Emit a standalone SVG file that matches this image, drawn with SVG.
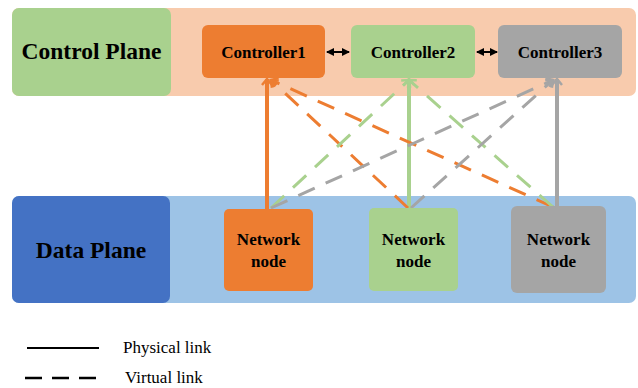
<svg xmlns="http://www.w3.org/2000/svg" width="638" height="388" viewBox="0 0 638 388">
<style>
.lbl{font-family:"Liberation Serif","Times New Roman",serif;font-weight:bold;fill:#000;text-anchor:middle}
.leg{font-family:"Liberation Serif","Times New Roman",serif;fill:#000;font-size:17px}
.phys{fill:none;stroke-width:4}
.virt{fill:none;stroke-width:3;stroke-dasharray:18 12}
.or{stroke:#ED7D31}
.gr{stroke:#A9D18E}
.gy{stroke:#A5A5A5}
</style>
<defs>
<marker id="mo" markerUnits="userSpaceOnUse" markerWidth="14" markerHeight="14" refX="7" refY="7" orient="auto"><path d="M1,2 L7,7 L1,12" fill="none" stroke="#ED7D31" stroke-width="2.5"/></marker>
<marker id="mg" markerUnits="userSpaceOnUse" markerWidth="14" markerHeight="14" refX="7" refY="7" orient="auto"><path d="M1,2 L7,7 L1,12" fill="none" stroke="#A9D18E" stroke-width="2.5"/></marker>
<marker id="my" markerUnits="userSpaceOnUse" markerWidth="14" markerHeight="14" refX="7" refY="7" orient="auto"><path d="M1,2 L7,7 L1,12" fill="none" stroke="#A5A5A5" stroke-width="2.5"/></marker>
<marker id="mb" markerUnits="userSpaceOnUse" markerWidth="10" markerHeight="10" refX="7" refY="5" orient="auto-start-reverse"><path d="M0,1 L8,5 L0,9 Z" fill="#000"/></marker>
</defs>
<g id="control-plane-band"><rect x="12" y="8" width="624" height="88" rx="7" fill="#F8CBAD"/></g>
<g id="data-plane-band"><rect x="12" y="196" width="624" height="107" rx="7" fill="#9DC3E6"/></g>
<g id="control-plane"><rect x="12" y="8" width="159" height="88" rx="7" fill="#A9D18E"/><text class="lbl" x="91.5" y="59" font-size="23.5">Control Plane</text></g>
<g id="data-plane"><rect x="12" y="196" width="158" height="107" rx="7" fill="#4472C4"/><text class="lbl" x="91" y="258" font-size="23.5">Data Plane</text></g>
<g id="connectors">
<line class="phys or" x1="267" y1="209" x2="267" y2="79" marker-end="url(#mo)"/>
<line class="phys gr" x1="409" y1="208" x2="409" y2="79" marker-end="url(#mg)"/>
<line class="phys gy" x1="557" y1="206" x2="557" y2="79" marker-end="url(#my)"/>
<line class="virt or" x1="408" y1="208" x2="271" y2="80" marker-end="url(#mo)"/>
<line class="virt or" x1="553" y1="207" x2="271" y2="80" marker-end="url(#mo)"/>
<line class="virt gr" x1="271" y1="208" x2="409" y2="80" marker-end="url(#mg)"/>
<line class="virt gr" x1="553" y1="207" x2="409" y2="80" marker-end="url(#mg)"/>
<line class="virt gy" x1="271" y1="208" x2="553" y2="80" marker-end="url(#my)"/>
<line class="virt gy" x1="411" y1="208" x2="553" y2="80" marker-end="url(#my)"/>
<line x1="327" y1="52" x2="349" y2="52" stroke="#000" stroke-width="2" marker-start="url(#mb)" marker-end="url(#mb)"/>
<line x1="477" y1="52" x2="497" y2="52" stroke="#000" stroke-width="2" marker-start="url(#mb)" marker-end="url(#mb)"/>
</g>
<g id="controller1"><rect x="202" y="25" width="123" height="53" rx="6" fill="#ED7D31"/><text class="lbl" x="263.5" y="58" font-size="17">Controller1</text></g>
<g id="controller2"><rect x="351" y="25" width="124" height="53" rx="6" fill="#A9D18E"/><text class="lbl" x="413" y="58" font-size="17">Controller2</text></g>
<g id="controller3"><rect x="498" y="25" width="124" height="53" rx="6" fill="#A5A5A5"/><text class="lbl" x="560" y="58" font-size="17">Controller3</text></g>
<g id="node1"><rect x="224" y="209" width="89" height="82" rx="5" fill="#ED7D31"/><text class="lbl" font-size="17"><tspan x="268.5" y="245">Network</tspan><tspan x="268.5" y="267">node</tspan></text></g>
<g id="node2"><rect x="369" y="208" width="89" height="83" rx="5" fill="#A9D18E"/><text class="lbl" font-size="17"><tspan x="413.5" y="245">Network</tspan><tspan x="413.5" y="267">node</tspan></text></g>
<g id="node3"><rect x="511" y="206" width="95" height="87" rx="6" fill="#A5A5A5"/><text class="lbl" font-size="17"><tspan x="558.5" y="245">Network</tspan><tspan x="558.5" y="267">node</tspan></text></g>
<g id="legend">
<line x1="27" y1="348" x2="99" y2="348" stroke="#000" stroke-width="2"/>
<text class="leg" x="123" y="353">Physical link</text>
<line x1="25" y1="378" x2="97" y2="378" stroke="#000" stroke-width="2.5" stroke-dasharray="17 10"/>
<text class="leg" x="125" y="383">Virtual link</text>
</g>
</svg>
